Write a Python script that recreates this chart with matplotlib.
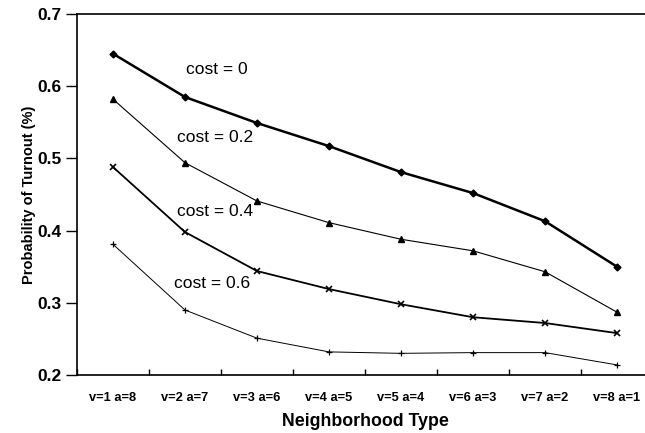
import matplotlib
matplotlib.use("Agg")
import matplotlib.pyplot as plt
import numpy as np

plt.rcParams["font.family"] = ["Liberation Sans", "DejaVu Sans"]

categories = ["v=1 a=8", "v=2 a=7", "v=3 a=6", "v=4 a=5",
              "v=5 a=4", "v=6 a=3", "v=7 a=2", "v=8 a=1"]
cost_0 = [0.645, 0.585, 0.549, 0.517, 0.481, 0.452, 0.413, 0.350]
cost_02 = [0.582, 0.494, 0.441, 0.411, 0.388, 0.372, 0.343, 0.287]
cost_04 = [0.488, 0.398, 0.344, 0.319, 0.298, 0.280, 0.272, 0.258]
cost_06 = [0.381, 0.290, 0.251, 0.232, 0.230, 0.231, 0.231, 0.214]

W, H = 645, 433
fig = plt.figure(figsize=(W / 100, H / 100), dpi=100, facecolor="white")
# axes run past the right edge, as in the cropped original
ax = fig.add_axes([77 / W, 1 - 375 / H, (653 - 77) / W, (375 - 14) / H])

x = np.arange(len(categories)) + 0.5
ax.plot(x, cost_0, "-D", color="black", lw=1.8, ms=3.5)
ax.plot(x, cost_02, "-^", color="black", lw=0.8, ms=4)
ax.plot(x, cost_04, "-x", color="black", lw=1.3, ms=4.5, mew=1.2)
ax.plot(x, cost_06, "-+", color="black", lw=0.7, ms=5, mew=0.9)

labels = [("cost = 0", 217, 70), ("cost = 0.2", 215, 138),
          ("cost = 0.4", 215, 212), ("cost = 0.6", 212, 283)]
for txt, px, py in labels:
    fig.text(px / W, 1 - py / H, txt, ha="center", va="center", fontsize=12.5)

ax.set_xlim(0, len(categories))
ax.set_ylim(0.2, 0.7)
ax.set_yticks([0.2, 0.3, 0.4, 0.5, 0.6, 0.7])
ax.set_yticklabels(["0.2", "0.3", "0.4", "0.5", "0.6", "0.7"],
                   fontsize=12.5, fontweight="bold")
ax.set_xticks(np.arange(len(categories) + 1))
ax.set_xticklabels([])
ax.set_xticks(x, minor=True)
ax.set_xticklabels(categories, minor=True, fontsize=9.3, fontweight="bold")
ax.tick_params(axis="x", which="minor", length=0, pad=12)
ax.tick_params(axis="x", which="major", direction="in", length=4, width=1)
ax.tick_params(axis="y", direction="out", length=8, width=1, pad=3)

for side in ax.spines:
    ax.spines[side].set_linewidth(1.2)

ax.set_xlabel("Neighborhood Type", fontsize=12.8, fontweight="bold")
ax.xaxis.set_label_coords((365 - 77) / (653 - 77), -(422 - 375) / (375 - 14))
ax.xaxis.label.set_va("center")
ax.set_ylabel("Probability of Turnout (%)", fontsize=10.5, fontweight="bold",
              labelpad=1)

fig.savefig("out.png", dpi=100)
